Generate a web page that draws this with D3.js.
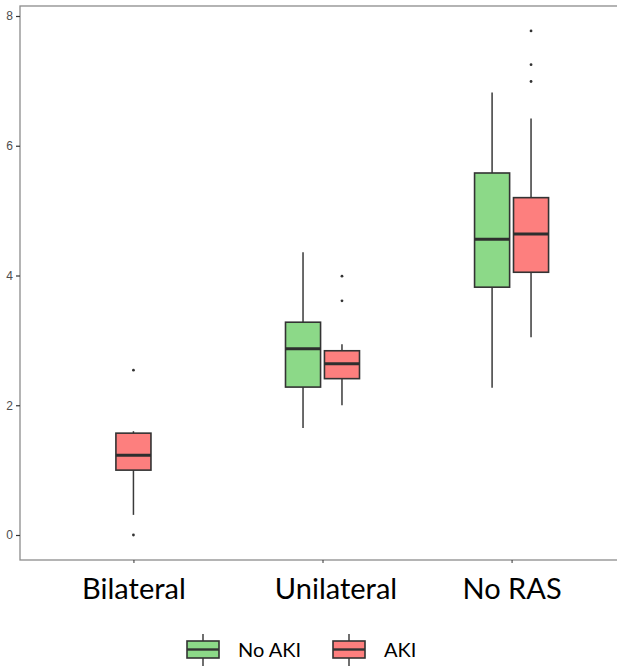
<!DOCTYPE html>
<html>

<head>
  <meta http-equiv="content-type" content="text/html; charset=utf-8">
  <title>AKI boxplot</title>
  <style>
    body { margin: 0; background: #fff; }
    svg#canvas { display: block; }
  </style>
</head>

<body>
  <svg id="canvas"></svg>

  <script src="https://d3js.org/d3.v7.min.js"></script>
  <script>

    const groups = ["Bilateral", "Unilateral", "No RAS"];
    const series = ["No AKI", "AKI"];
    const colors = ["#8cd988", "#fd7f7e"];
    const yTicks = [0, 2, 4, 6, 8];

    // [lower whisker, q1, median, q3, upper whisker], per group
    const noAkiStats = [null, [1.65, 2.28, 2.87, 3.28, 4.36], [2.27, 3.82, 4.56, 5.58, 6.82]];
    const akiStats = [[0.31, 1.00, 1.23, 1.57, 1.60], [2.00, 2.41, 2.64, 2.84, 2.94], [3.05, 4.05, 4.64, 5.20, 6.42]];
    const noAkiOutliers = [[], [], []];
    const akiOutliers = [[0.0, 2.54], [3.61, 3.99], [6.99, 7.25, 7.77]];

    const W = 617, H = 668;
    const svg = d3.select("svg#canvas").attr("width", W).attr("height", H);

    const panel = { left: 20, top: 6, right: 625, bottom: 560 };
    const x = d3.scalePoint().domain(groups).range([panel.left, panel.right]).padding(0.6);
    const dodge = d3.scaleBand().domain(series).range([-37, 37]).paddingInner(0.1);
    const y = d3.scaleLinear().domain([0, 8]).range([535, 16]);

    // panel border
    svg.append("rect")
      .attr("x", panel.left).attr("y", panel.top)
      .attr("width", panel.right - panel.left).attr("height", panel.bottom - panel.top)
      .attr("fill", "none").attr("stroke", "#8c8c8c").attr("stroke-width", 1.3);

    const boxes = [];
    groups.forEach((g, i) => {
      const present = [noAkiStats[i], akiStats[i]].filter(s => s).length;
      [noAkiStats, akiStats].forEach((arr, j) => {
        if (!arr[i]) return;
        const off = present === 1 ? 0 : dodge(series[j]) + dodge.bandwidth() / 2;
        boxes.push({ g: g, s: arr[i], cx: x(g) + off, color: colors[j],
          out: (j === 0 ? noAkiOutliers : akiOutliers)[i] });
      });
    });

    const bw = dodge.bandwidth();
    const bg = svg.append("g").selectAll("g").data(boxes).enter().append("g");
    bg.append("line")
      .attr("x1", d => d.cx).attr("x2", d => d.cx)
      .attr("y1", d => y(d.s[4])).attr("y2", d => y(d.s[3]))
      .attr("stroke", "#3a3a3a").attr("stroke-width", 1.5);
    bg.append("line")
      .attr("x1", d => d.cx).attr("x2", d => d.cx)
      .attr("y1", d => y(d.s[1])).attr("y2", d => y(d.s[0]))
      .attr("stroke", "#3a3a3a").attr("stroke-width", 1.5);
    bg.append("rect")
      .attr("x", d => d.cx - bw / 2).attr("width", bw)
      .attr("y", d => y(d.s[3])).attr("height", d => y(d.s[1]) - y(d.s[3]))
      .attr("fill", d => d.color).attr("stroke", "#333").attr("stroke-width", 1.6);
    bg.append("line")
      .attr("x1", d => d.cx - bw / 2).attr("x2", d => d.cx + bw / 2)
      .attr("y1", d => y(d.s[2])).attr("y2", d => y(d.s[2]))
      .attr("stroke", "#2e2e2e").attr("stroke-width", 3);
    bg.selectAll("circle").data(d => d.out.map(v => ({ v: v, cx: d.cx }))).enter().append("circle")
      .attr("cx", d => d.cx).attr("cy", d => y(d.v)).attr("r", 1.4).attr("fill", "#333");

    // y axis
    const ya = svg.append("g")
      .attr("transform", "translate(" + panel.left + ",0)")
      .call(d3.axisLeft(y).tickValues(yTicks).tickSize(4).tickPadding(3));
    ya.select(".domain").remove();
    ya.selectAll("line").attr("stroke", "#333").attr("stroke-width", 1.2);
    ya.selectAll("text").attr("fill", "#4d4d4d").style("font", "12px 'Liberation Sans', Arial, sans-serif");

    // x axis (labels were set by hand in the original, Unilateral sits a bit right)
    const xa = svg.append("g")
      .attr("transform", "translate(0," + panel.bottom + ")")
      .call(d3.axisBottom(x).tickSize(3).tickPadding(15));
    xa.select(".domain").remove();
    xa.selectAll("line").attr("stroke", "#333");
    xa.selectAll("text").attr("fill", "#000").style("font", "29px Lato, 'Open Sans', sans-serif")
      .attr("dx", d => d === "Unilateral" ? 13 : 0);

    // legend
    const leg = svg.append("g");
    const legX = [187, 333];
    series.forEach((s, j) => {
      const lx = legX[j];
      leg.append("line").attr("x1", lx + 16).attr("x2", lx + 16).attr("y1", 634).attr("y2", 666)
        .attr("stroke", "#333").attr("stroke-width", 1.4);
      leg.append("rect").attr("x", lx).attr("y", 641).attr("width", 32).attr("height", 17)
        .attr("fill", colors[j]).attr("stroke", "#333").attr("stroke-width", 1.6);
      leg.append("line").attr("x1", lx).attr("x2", lx + 32).attr("y1", 649.5).attr("y2", 649.5)
        .attr("stroke", "#333").attr("stroke-width", 2.4);
      leg.append("text").attr("x", lx + 51).attr("y", 657)
        .style("font", "20px Lato, 'Open Sans', sans-serif").attr("fill", "#000").text(s);
    });

  </script>
</body>

</html>
